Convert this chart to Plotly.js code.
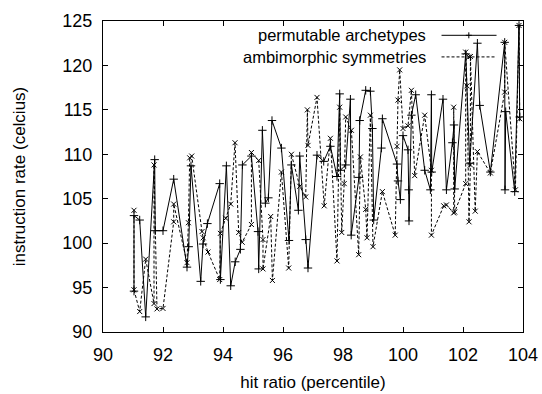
<!DOCTYPE html>
<html>
<head>
<meta charset="utf-8">
<script src="https://cdn.plot.ly/plotly-3.0.1.min.js"></script>
<style>html,body{margin:0;padding:0;background:#fff;}#chart{width:542px;height:394px;}</style>
</head>
<body>
<div id="chart"></div>
<script>
// permutable archetypes (solid, +)
const permX = [91.033,91.033,91.223,91.423,91.723,91.74,92.0,92.357,92.8,92.857,92.933,93.257,93.333,93.48,93.89,93.913,94.113,94.257,94.407,94.58,94.647,94.947,95.167,95.19,95.313,95.413,95.513,95.633,95.947,96.2,96.28,96.513,96.557,96.757,96.833,97.133,97.357,97.58,97.8,97.89,97.913,98.09,98.247,98.273,98.533,98.557,98.757,98.913,98.98,99.023,99.28,99.313,99.8,99.833,99.913,100.0,100.167,100.19,100.2,100.28,100.423,100.723,100.913,100.947,100.957,101.333,101.447,101.647,101.7,101.723,102.09,102.223,102.48,102.557,102.913,103.39,103.4,103.423,103.723,103.867,103.89];
const permY = [94.6,103.1,102.6,91.7,109.4,101.4,101.4,107.2,97.3,99.6,108.7,95.7,99.9,102.2,106.7,95.9,108.7,95.2,97.9,99.3,108.8,109.8,101.3,97.1,112.7,104.5,105.1,113.8,110.7,100.3,108.8,103.7,109.8,100.4,97.2,109.9,109.2,110.9,107.5,116.8,108.2,108.8,116.2,100.9,107.4,113.8,117.2,117.1,112.9,102.6,110.7,114.0,108.9,107.0,104.9,112.1,110.5,106.0,102.5,114.4,116.7,108.2,106.0,116.7,108.0,116.2,106.0,111.3,113.3,106.1,121.3,109.0,122.5,115.5,108.0,122.6,106.0,114.8,105.8,124.5,114.2];

// ambimorphic symmetries (dashed, x)
const ambiX = [91.033,91.033,91.223,91.423,91.7,91.7,91.8,92.0,92.357,92.357,92.8,92.847,92.89,92.957,93.3,93.34,93.5,93.89,93.913,94.09,94.257,94.4,94.523,94.64,94.947,94.947,95.19,95.333,95.333,95.59,95.647,95.947,96.19,96.28,96.557,96.757,96.813,96.833,97.133,97.373,97.58,97.8,97.89,97.957,98.04,98.09,98.28,98.523,98.58,98.757,98.8,98.913,99.0,99.313,99.74,99.8,99.833,99.89,100.0,100.167,100.28,100.39,100.723,100.947,100.947,101.357,101.447,101.69,101.69,101.723,102.09,102.09,102.133,102.2,102.247,102.247,102.407,102.48,102.913,103.39,103.39,103.747,103.867,103.89];
const ambiY = [103.7,94.75,92.3,98.2,93.2,108.8,92.6,92.65,102.4,104.4,97.8,102.3,109.6,109.8,101.3,100.6,99.0,95.9,101.1,102.8,104.4,111.3,101.2,100.1,102.1,110.2,109.3,100.4,97.1,103.0,95.8,108.0,97.2,110.0,106.4,105.2,115.0,111.0,116.4,104.2,111.8,98.0,115.3,101.2,106.7,114.2,112.7,98.7,109.7,103.8,100.6,114.4,99.6,105.8,100.9,110.9,116.1,119.5,112.9,113.2,117.2,107.6,114.4,108.2,100.9,104.2,104.3,103.4,115.3,103.5,106.7,121.5,117.7,102.4,108.8,121.0,103.6,110.3,107.9,117.0,122.6,106.0,124.5,114.0];

const seriesNames = ['permutable archetypes','ambimorphic symmetries'];
const xTicks = [90,92,94,96,98,100,102,104];
const yTicks = [90,95,100,105,110,115,120,125];

const FONT = 'Liberation Sans, Arial, Helvetica, sans-serif';

const traces = [
  {x: permX, y: permY, mode: 'lines+markers', name: seriesNames[0],
   line: {color: '#000', width: 1},
   marker: {symbol: 'cross-thin', size: 6, line: {color: '#000', width: 1}, color: '#000'}},
  {x: ambiX, y: ambiY, mode: 'lines+markers', name: seriesNames[1],
   line: {color: '#000', width: 1, dash: '3px,2px'},
   marker: {symbol: 'x-thin', size: 5, line: {color: '#000', width: 1}, color: '#000'}}
];

// custom gnuplot-style legend (text right, sample on the right)
const lx0 = 0.806, lx1 = 0.937, lxm = 0.871, ltx = 0.773;
const rows = [0.954, 0.8845];
const dx = 3/420, dy = 3/311.6, ex = 2.5/420, ey = 2.5/311.6;
const shapes = [
  {type:'line', xref:'paper', yref:'paper', x0:lx0, x1:lx1, y0:rows[0], y1:rows[0], line:{color:'#000', width:1}},
  {type:'path', xref:'paper', yref:'paper', path:`M${lxm-dx},${rows[0]} L${lxm+dx},${rows[0]} M${lxm},${rows[0]-dy} L${lxm},${rows[0]+dy}`, line:{color:'#000', width:1}},
  {type:'line', xref:'paper', yref:'paper', x0:lx0, x1:lx1, y0:rows[1], y1:rows[1], line:{color:'#000', width:1, dash:'3px,2px'}},
  {type:'path', xref:'paper', yref:'paper', path:`M${lxm-ex},${rows[1]-ey} L${lxm+ex},${rows[1]+ey} M${lxm-ex},${rows[1]+ey} L${lxm+ex},${rows[1]-ey}`, line:{color:'#000', width:1}}
];
const annotations = seriesNames.map((n,i) => ({
  xref:'paper', yref:'paper', x: ltx, y: rows[i], xanchor:'right', yanchor:'middle',
  text: n, showarrow:false, font:{family: FONT, size:16.5, color:'#000'}
}));

const axisCommon = {
  showline: true, linecolor: '#000', linewidth: 1, mirror: 'ticks',
  ticks: 'inside', ticklen: 5, tickcolor: '#000', tickwidth: 1,
  showgrid: false, zeroline: false,
  tickfont: {family: FONT, size: 18, color: '#000'}
};

const layout = {
  width: 542, height: 394,
  margin: {l: 103, r: 19, t: 21, b: 62},
  paper_bgcolor: '#fff', plot_bgcolor: '#fff',
  showlegend: false,
  xaxis: Object.assign({}, axisCommon, {
    range: [90, 104], tickvals: xTicks, ticktext: xTicks.map(String),
    ticklabelstandoff: 6,
    title: {text: 'hit ratio (percentile)', font: {family: FONT, size: 17, color: '#000'}, standoff: 12}
  }),
  yaxis: Object.assign({}, axisCommon, {
    range: [90, 125], tickvals: yTicks, ticktext: yTicks.map(String),
    ticklabelstandoff: 6,
    title: {text: 'instruction rate (celcius)', font: {family: FONT, size: 17, color: '#000'}, standoff: 32}
  }),
  shapes: shapes,
  annotations: annotations
};

Plotly.newPlot('chart', traces, layout, {displayModeBar: false, staticPlot: true});
</script>
</body>
</html>
